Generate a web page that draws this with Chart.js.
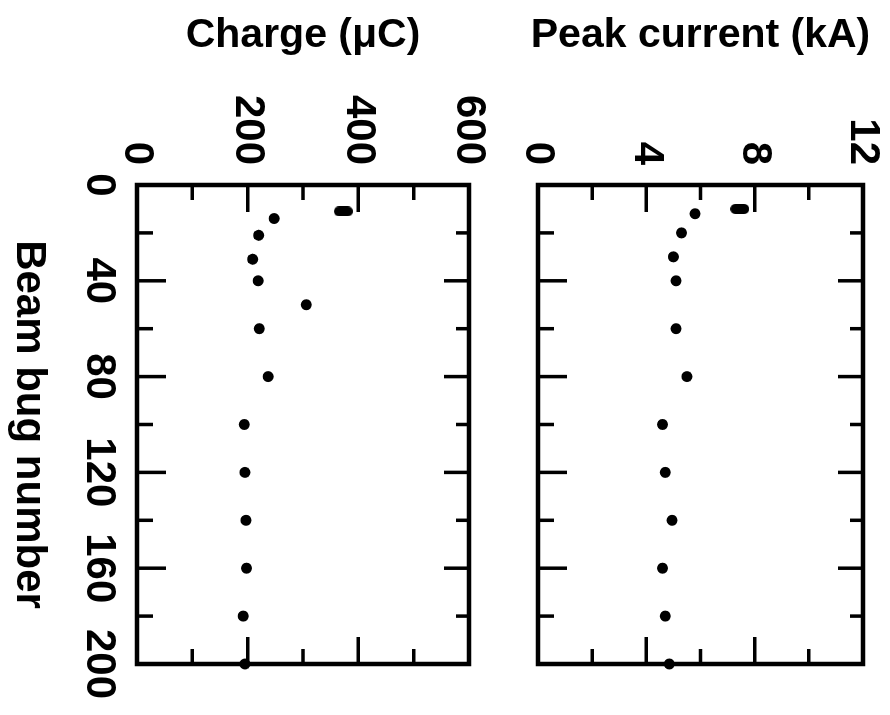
<!DOCTYPE html>
<html>
<head>
<meta charset="utf-8">
<script src="https://cdn.jsdelivr.net/npm/chart.js@4.4.1/dist/chart.umd.min.js"></script>
<style>
  html, body { margin: 0; padding: 0; background: #fff; width: 890px; height: 715px; overflow: hidden; }
  /* the whole figure is printed turned a quarter clockwise */
  #wrap { position: absolute; left: 0; top: 0; width: 715px; height: 890px;
          transform-origin: 0 0; transform: translateX(890px) rotate(90deg); }
  #peakChart { position: absolute; left: 0; top: 0; }
  #chargeChart { position: absolute; left: 0; top: 390px; }
</style>
</head>
<body>
<div id="wrap">
  <canvas id="peakChart" width="715" height="390"></canvas>
  <canvas id="chargeChart" width="715" height="500"></canvas>
</div>
<script>
// beam bug number for each measurement
const chargeBugs = [14, 21, 31, 40, 50, 60, 80, 100, 120, 140, 160, 180, 200];
const chargeValues = [248, 220, 209, 219, 306, 221, 237, 194, 195, 197, 198, 192, 195];
const chargeBarBug = [11];
const chargeBarValue = [373];

const peakBugs = [12, 20, 30, 40, 60, 80, 100, 120, 140, 160, 180, 200];
const peakValues = [5.8, 5.3, 5.0, 5.1, 5.1, 5.5, 4.6, 4.7, 4.95, 4.6, 4.7, 4.85];
const peakBarBug = [10];
const peakBarValue = [7.45];

const bugTicks = { min: 0, max: 200, step: 20, labelStep: 40 };
const chargeTicks = { min: 0, max: 600, step: 100, labelStep: 200 };
const peakTicks = { min: 0, max: 12, step: 2, labelStep: 4 };

const FONT = 'Liberation Sans, Arial, Helvetica, sans-serif';

function makePill(w, h) {
    const c = document.createElement('canvas');
    c.width = w;
    c.height = h;
    const g = c.getContext('2d');
    g.fillStyle = '#000';
    g.beginPath();
    if (g.roundRect) g.roundRect(0, 0, w, h, w / 2);
    else g.rect(0, 0, w, h);
    g.fill();
    return c;
}

function toPoints(xs, ys) {
    return xs.map((x, i) => ({ x: x, y: ys[i] }));
}

// frame + inward tick marks on all four sides
const framePlugin = {
    id: 'frame',
    afterDraw(chart) {
        const { ctx, chartArea: a, scales } = chart;
        ctx.save();
        ctx.strokeStyle = '#000';
        ctx.lineCap = 'butt';
        ctx.lineWidth = 3.5;
        ctx.beginPath();
        scales.x.ticks.forEach(t => {
            if (t.value <= bugTicks.min || t.value >= bugTicks.max) return;
            const px = scales.x.getPixelForValue(t.value);
            const major = t.value % bugTicks.labelStep === 0;
            ctx.moveTo(px, a.bottom);
            ctx.lineTo(px, a.bottom - (major ? 29 : 16));
            ctx.moveTo(px, a.top);
            ctx.lineTo(px, a.top + (major ? 25 : 13));
        });
        const yt = chart.options.scales.y;
        scales.y.ticks.forEach(t => {
            if (t.value <= yt.min || t.value >= yt.max) return;
            const py = scales.y.getPixelForValue(t.value);
            const major = t.label !== '';
            const len = major ? 27 : 15;
            ctx.moveTo(a.left, py);
            ctx.lineTo(a.left + len, py);
            ctx.moveTo(a.right, py);
            ctx.lineTo(a.right - len, py);
        });
        ctx.stroke();
        ctx.lineWidth = 4.5;
        ctx.strokeRect(a.left, a.top, a.right - a.left, a.bottom - a.top);
        ctx.restore();
    }
};

function makeChart(id, bugs, values, barBug, barValue, range, title, showBugAxis, padTop, xHeight) {
    const ctx = document.getElementById(id).getContext('2d');
    return new Chart(ctx, {
        type: 'scatter',
        data: {
            datasets: [{
                data: toPoints(bugs, values),
                pointRadius: 5.5,
                pointBackgroundColor: '#000',
                pointBorderWidth: 0,
                clip: 8
            }, {
                data: toPoints(barBug, barValue),
                pointStyle: makePill(10, 19),
                clip: 8
            }]
        },
        options: {
            responsive: false,
            animation: false,
            devicePixelRatio: 1,
            layout: { padding: { top: padTop, right: 51, left: 0, bottom: 0 } },
            plugins: { legend: { display: false }, tooltip: { enabled: false } },
            scales: {
                x: {
                    type: 'linear',
                    position: 'bottom',
                    min: bugTicks.min,
                    max: bugTicks.max,
                    grid: { display: false, drawTicks: false },
                    border: { display: false },
                    ticks: {
                        stepSize: bugTicks.step,
                        autoSkip: false,
                        maxRotation: 0,
                        minRotation: 0,
                        padding: 13,
                        color: '#000',
                        font: { family: FONT, size: 42, weight: 'bold' },
                        callback: v => (showBugAxis && v % bugTicks.labelStep === 0) ? v : ''
                    },
                    title: {
                        display: showBugAxis,
                        text: 'Beam bug number',
                        color: '#000',
                        padding: { top: 0, bottom: 3 },
                        font: { family: FONT, size: 42, weight: 'bold' }
                    },
                    afterFit: s => {
                        s.height = xHeight;
                        s.paddingLeft = 0;
                        s.paddingRight = 0;
                    }
                },
                y: {
                    min: range.min,
                    max: range.max,
                    grid: { display: false, drawTicks: false },
                    border: { display: false },
                    ticks: {
                        stepSize: range.step,
                        autoSkip: false,
                        padding: 20,
                        color: '#000',
                        font: { family: FONT, size: 42, weight: 'bold' },
                        callback: v => v % range.labelStep === 0 ? v : ''
                    },
                    title: {
                        display: true,
                        text: title,
                        color: '#000',
                        padding: { top: 11, bottom: 0 },
                        font: { family: FONT, size: 41, weight: 'bold' }
                    },
                    afterFit: s => {
                        s.width = 185;
                        s.paddingTop = 0;
                        s.paddingBottom = 0;
                    }
                }
            }
        },
        plugins: [framePlugin]
    });
}

makeChart('peakChart', peakBugs, peakValues, peakBarBug, peakBarValue, peakTicks,
    'Peak current (kA)', false, 27, 38);
makeChart('chargeChart', chargeBugs, chargeValues, chargeBarBug, chargeBarValue, chargeTicks,
    'Charge (\u03bcC)', true, 31, 137);
</script>
</body>
</html>
